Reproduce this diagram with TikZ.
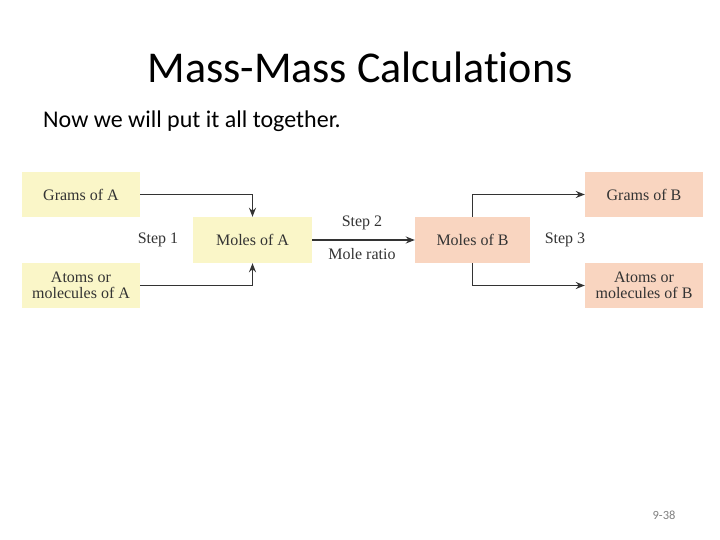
\documentclass[tikz,border=0pt]{standalone}
\usepackage{fontspec}
\setmainfont{Carlito}[Ligatures={NoCommon}]
\newfontfamily\serifbox{Liberation Serif}
\usetikzlibrary{arrows.meta}
\definecolor{yel}{HTML}{FAF6C8}
\definecolor{sal}{HTML}{F9D5C0}
\definecolor{ink}{HTML}{333333}
\begin{document}
\begin{tikzpicture}[x=1pt,y=-1pt,
  bx/.style={minimum width=118pt,minimum height=45pt,inner sep=1pt,align=center,
    font=\serifbox\fontsize{16}{17}\selectfont,text=ink},
  ya/.style={bx,fill=yel},
  sb/.style={bx,fill=sal},
  lbl/.style={font=\serifbox\fontsize{16}{17}\selectfont,text=ink,inner sep=1pt},
  conn/.style={draw=ink,line width=1.6pt,-{Stealth[length=9pt,width=7pt,inset=3pt]}}]
\useasboundingbox (0,0) rectangle (720,540);
\node[font=\fontsize{44}{48}\selectfont] (title) at (360,67) {Mass-Mass Calculations};
\node[font=\fontsize{24}{28}\selectfont,anchor=west,inner sep=0pt] (sub) at (43,121) {Now we will put it all together.};
\node[ya] (gA) at (81,194.5) {Grams of A};
\node[ya] (aA) at (81,285.5) {Atoms or\\[-1pt]molecules of A};
\node[ya,minimum width=119pt,minimum height=46pt] (mA) at (252.5,240) {Moles of A};
\node[sb,minimum width=115pt,minimum height=46pt] (mB) at (472.5,240) {Moles of B};
\node[sb] (gB) at (644,194.5) {Grams of B};
\node[sb] (aB) at (644,285.5) {Atoms or\\[-1pt]molecules of B};
\node[lbl] (s1) at (158,240) {Step 1};
\node[lbl] (s2) at (362,223) {Step 2};
\node[lbl] (mr) at (362,254) {Mole ratio};
\node[lbl] (s3) at (565,240) {Step 3};
\draw[conn] (gA.east) -| (mA.north);
\draw[conn] (aA.east) -| (mA.south);
\draw[conn] (mA.east) -- (mB.west);
\draw[conn] (mB.north) |- (gB.west);
\draw[conn] (mB.south) |- (aB.west);
\node[font=\fontsize{12.5}{14}\selectfont,text=gray] (pg) at (664,515) {9-38};
\end{tikzpicture}
\end{document}
